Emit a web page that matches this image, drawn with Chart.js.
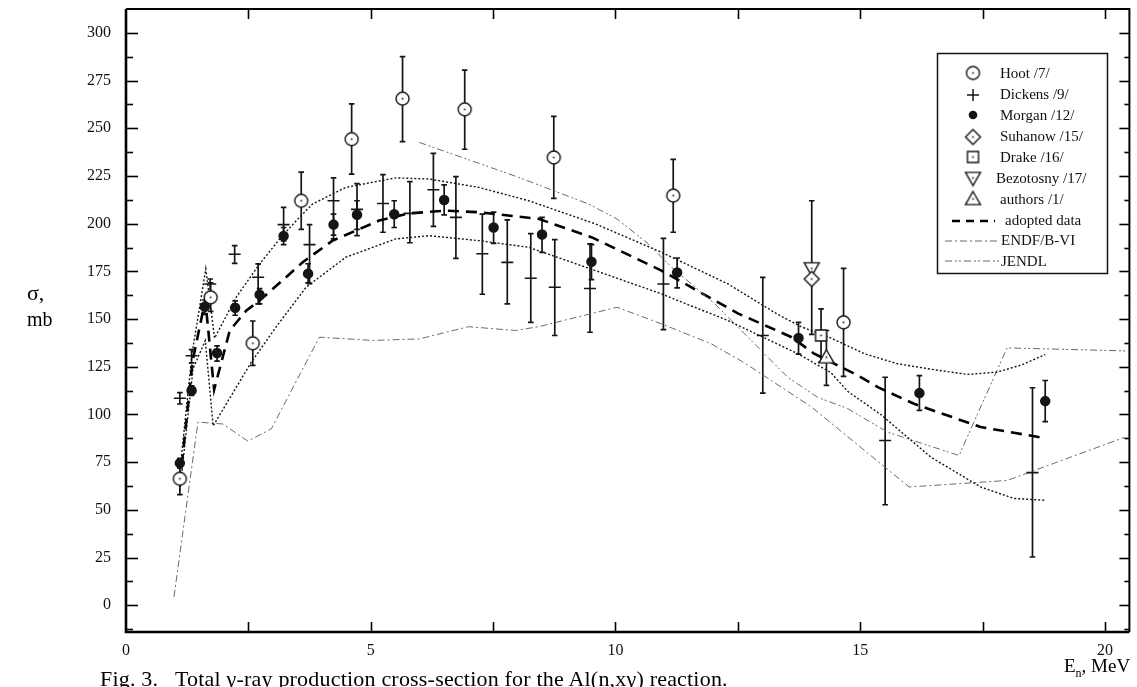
<!DOCTYPE html>
<html><head><meta charset="utf-8">
<script src="https://cdn.jsdelivr.net/npm/chart.js@4.4.1/dist/chart.umd.min.js"></script>
<style>
html,body{margin:0;padding:0;background:#fff;}
#wrap{position:relative;width:1137px;height:687px;overflow:hidden;font-family:"Liberation Serif","DejaVu Serif",serif;color:#000;}
#c{position:absolute;left:0;top:0;}
.t{position:absolute;white-space:pre;line-height:1;}
</style>
</head><body>
<div id="wrap">
<canvas id="c" width="1137" height="687"></canvas>
<div class="t" style="left:27px;top:282px;font-size:22px;">σ,</div>
<div class="t" style="left:27px;top:309px;font-size:20px;">mb</div>
<div class="t" style="left:1064px;top:656px;font-size:19px;">E<span style="font-size:12px;position:relative;top:5px;">n</span>, MeV</div>
<div class="t" style="left:100px;top:668px;font-size:22px;letter-spacing:0.2px;">Fig. 3.   Total γ-ray production cross-section for the Al(n,xγ) reaction.</div>
</div>
<script>
// ---------- data ----------
const xTickLabels = ['0','5','10','15','20'];
const yTickLabels = ['0','25','50','75','100','125','150','175','200','225','250','275','300'];

const hootE  = [1.10, 1.73, 2.59, 3.58, 4.61, 5.65, 6.92, 8.74, 11.18, 14.66];
const hootS  = [66.3, 161.4, 137.3, 212.0, 244.3, 265.5, 259.9, 234.7, 214.7, 148.3];
const hootLo = [58.0, 154.0, 125.7, 197.0, 226.0, 243.0, 239.0, 213.3, 195.5, 120.0];
const hootHi = [72.0, 169.0, 149.0, 227.0, 262.8, 287.5, 280.5, 256.2, 233.7, 176.6];

const dickE  = [1.10, 1.34, 1.72, 2.22, 2.70, 3.22, 3.75, 4.24, 4.72, 5.25, 5.80, 6.28, 6.74, 7.28, 7.79, 8.27, 8.76, 9.48, 10.98, 13.01, 15.51, 18.52];
const dickS  = [108.5, 130.8, 168.4, 184.0, 171.9, 199.5, 189.0, 212.0, 207.5, 210.6, 205.4, 217.8, 203.3, 184.2, 179.7, 171.4, 166.7, 166.0, 168.4, 141.4, 86.4, 69.5];
const dickLo = [105.5, 127.0, 163.0, 179.2, 158.0, 191.0, 168.6, 192.0, 193.7, 195.5, 190.0, 198.6, 181.8, 163.0, 158.0, 148.3, 141.4, 143.1, 144.5, 111.2, 52.7, 25.3];
const dickHi = [111.5, 134.0, 171.0, 188.5, 178.9, 208.5, 199.5, 224.0, 221.0, 225.7, 222.0, 236.8, 224.6, 205.0, 202.0, 194.8, 191.6, 189.4, 192.3, 171.9, 119.5, 114.0];

const morE  = [1.10, 1.34, 1.61, 1.86, 2.23, 2.73, 3.22, 3.72, 4.24, 4.72, 5.48, 6.50, 7.51, 8.50, 9.51, 11.26, 13.74, 16.21, 18.78];
const morS  = [74.5, 112.6, 156.5, 132.2, 155.9, 162.8, 193.5, 173.8, 199.5, 204.7, 204.9, 212.4, 198.0, 194.3, 180.0, 174.4, 140.1, 111.2, 107.0];
const morLo = [72.0, 110.0, 152.5, 128.0, 152.0, 158.0, 189.0, 169.0, 194.0, 197.0, 198.0, 204.6, 189.7, 185.0, 170.7, 166.3, 131.6, 102.1, 96.3];
const morHi = [77.0, 115.0, 160.0, 136.0, 159.5, 166.0, 198.0, 179.0, 205.0, 212.0, 212.0, 220.3, 206.0, 203.3, 189.0, 182.0, 148.3, 120.4, 117.8];

const suhE = [14.01], suhS = [171.0];
const drakeE = [14.20], drakeS = [141.4], drakeLo = [127.5], drakeHi = [155.3];
const bezE = [14.01], bezS = [176.6], bezLo = [142.0], bezHi = [212.0];
const authE = [14.31], authS = [130.0], authLo = [115.2], authHi = [144.0];

const adoptE = [1.10, 1.36, 1.62, 1.80, 2.12, 2.46, 2.73, 3.27, 3.61, 4.22, 5.17, 5.78, 6.53, 7.21, 8.43, 9.52, 10.94, 12.50, 13.60, 14.05, 14.95, 15.36, 16.10, 17.46, 18.78];
const adoptS = [64.0, 128.0, 160.0, 113.0, 144.0, 154.5, 159.7, 171.9, 179.8, 191.1, 201.6, 205.4, 206.8, 206.0, 202.5, 192.8, 175.4, 153.0, 140.5, 132.0, 120.5, 114.3, 105.6, 93.4, 87.6];

const upperE = [1.10, 1.35, 1.63, 1.81, 2.25, 2.73, 3.14, 3.48, 3.81, 4.49, 5.51, 6.19, 7.21, 8.23, 9.59, 10.94, 12.30, 13.30, 13.79, 14.41, 15.09, 15.76, 16.50, 17.19, 17.80, 18.30, 18.78];
const upperS = [70.0, 132.0, 176.3, 140.0, 161.4, 178.9, 192.0, 201.6, 210.3, 219.0, 224.0, 223.4, 219.0, 212.0, 199.9, 185.0, 168.4, 152.7, 146.0, 140.0, 131.8, 126.6, 123.5, 121.0, 122.2, 126.0, 131.4];

const lowerE = [1.10, 1.37, 1.62, 1.78, 2.55, 3.07, 3.68, 4.49, 5.51, 6.19, 7.21, 8.23, 9.59, 10.94, 12.30, 13.73, 14.40, 14.75, 15.42, 16.44, 17.46, 18.14, 18.78];
const lowerS = [60.0, 124.0, 138.8, 94.0, 127.0, 146.0, 166.7, 182.4, 192.0, 193.7, 191.1, 187.6, 175.4, 163.2, 149.2, 131.8, 122.0, 112.0, 100.0, 77.7, 62.0, 56.0, 55.0];

const endfE = [0.98, 1.47, 1.98, 2.49, 2.97, 3.95, 5.04, 5.99, 7.00, 7.96, 8.43, 10.03, 10.94, 11.96, 12.64, 13.39, 14.00, 16.00, 18.00, 20.40];
const endfS = [4.4, 96.0, 95.0, 86.0, 92.5, 140.5, 138.8, 139.6, 146.0, 144.0, 146.0, 156.2, 147.5, 137.0, 127.0, 114.3, 104.0, 62.0, 65.4, 88.0];

const jendlE = [5.99, 8.02, 9.45, 10.03, 10.67, 11.15, 12.03, 12.57, 13.52, 14.13, 14.75, 15.56, 17.02, 18.00, 20.45];
const jendlS = [242.6, 224.3, 210.3, 202.5, 189.4, 177.1, 158.0, 144.0, 119.5, 109.0, 103.0, 90.7, 78.5, 134.9, 133.3];

// ---------- helpers ----------
const pts = (xs, ys) => xs.map((x, i) => ({x: x, y: ys[i]}));
const INK = '#151515';

function marker(kind, r) {
  const s = Math.ceil(r * 2 + 4);
  const c = document.createElement('canvas');
  c.width = s; c.height = s;
  const g = c.getContext('2d');
  const m = s / 2;
  g.lineWidth = 1.4; g.strokeStyle = INK; g.fillStyle = '#fff';
  g.beginPath();
  if (kind === 'circle') g.arc(m, m, r, 0, Math.PI * 2);
  else if (kind === 'square') g.rect(m - r * 0.85, m - r * 0.85, r * 1.7, r * 1.7);
  else if (kind === 'diamond') { g.moveTo(m, m - r); g.lineTo(m + r, m); g.lineTo(m, m + r); g.lineTo(m - r, m); g.closePath(); }
  else if (kind === 'tridown') { g.moveTo(m - r, m - r * 0.75); g.lineTo(m + r, m - r * 0.75); g.lineTo(m, m + r); g.closePath(); }
  else if (kind === 'triup') { g.moveTo(m, m - r); g.lineTo(m + r, m + r * 0.75); g.lineTo(m - r, m + r * 0.75); g.closePath(); }
  g.fill(); g.stroke();
  g.fillStyle = INK; g.fillRect(m - 0.8, m - 0.8, 1.6, 1.6);
  return c;
}
const mkCircle = marker('circle', 6.5);
const mkDiamond = marker('diamond', 7.5);
const mkSquare = marker('square', 6.5);
const mkTriDown = marker('tridown', 7.5);
const mkTriUp = marker('triup', 7.5);

function scatterSet(label, xs, ys, lo, hi, style, extra) {
  return Object.assign({
    label: label, type: 'scatter', data: pts(xs, ys), showLine: false,
    pointStyle: style, pointRadius: 6, pointHoverRadius: 6,
    borderColor: INK, backgroundColor: '#fff', borderWidth: 1.5,
    errLo: lo, errHi: hi, order: 1
  }, extra || {});
}
function lineSet(label, xs, ys, color, width, dash) {
  return {
    label: label, type: 'line', data: pts(xs, ys), showLine: true,
    borderColor: color, borderWidth: width, borderDash: dash,
    pointRadius: 0, pointHoverRadius: 0, fill: false, tension: 0, order: 5
  };
}

// ---------- plugins ----------
const errorBars = {
  id: 'errorBars',
  beforeDatasetsDraw(chart) {
    const g = chart.ctx, xs = chart.scales.x, ys = chart.scales.y, a = chart.chartArea;
    g.save();
    g.beginPath(); g.rect(a.left, a.top, a.right - a.left, a.bottom - a.top); g.clip();
    g.strokeStyle = INK; g.lineWidth = 1.7; g.setLineDash([]);
    chart.data.datasets.forEach(ds => {
      if (!ds.errLo) return;
      ds.data.forEach((p, i) => {
        const x = xs.getPixelForValue(p.x);
        const y1 = ys.getPixelForValue(ds.errLo[i]);
        const y2 = ys.getPixelForValue(ds.errHi[i]);
        g.beginPath();
        g.moveTo(x, y1); g.lineTo(x, y2);
        g.moveTo(x - 2.8, y1); g.lineTo(x + 2.8, y1);
        g.moveTo(x - 2.8, y2); g.lineTo(x + 2.8, y2);
        g.stroke();
      });
    });
    g.restore();
  }
};

const frame = {
  id: 'frame',
  afterDraw(chart) {
    const g = chart.ctx, a = chart.chartArea, xs = chart.scales.x, ys = chart.scales.y;
    g.save();
    g.strokeStyle = '#000'; g.setLineDash([]);
    g.lineWidth = 1.6;
    xs.ticks.forEach(t => {
      const x = Math.round(xs.getPixelForValue(t.value)) + 0.5;
      if (x <= a.left + 1 || x >= a.right - 1) return;
      g.beginPath(); g.moveTo(x, a.bottom); g.lineTo(x, a.bottom - 10); g.stroke();
      g.beginPath(); g.moveTo(x, a.top); g.lineTo(x, a.top + 10); g.stroke();
    });
    ys.ticks.forEach(t => {
      const y = Math.round(ys.getPixelForValue(t.value)) + 0.5;
      if (y <= a.top + 1 || y >= a.bottom - 1) return;
      const major = yTickLabels.indexOf(String(t.value)) >= 0;
      g.beginPath(); g.moveTo(a.left, y); g.lineTo(a.left + (major ? 12 : 7), y); g.stroke();
      g.beginPath(); g.moveTo(a.right, y); g.lineTo(a.right - (major ? 10 : 5), y); g.stroke();
    });
    g.lineWidth = 2.6;
    g.beginPath(); g.moveTo(a.left, a.top); g.lineTo(a.left, a.bottom); g.lineTo(a.right, a.bottom); g.stroke();
    g.lineWidth = 2;
    g.beginPath(); g.moveTo(a.left, a.top); g.lineTo(a.right, a.top); g.lineTo(a.right, a.bottom); g.stroke();
    g.restore();
  }
};

const legendBox = {
  id: 'legendBox',
  afterDraw(chart) {
    const g = chart.ctx;
    const L = 937, T = 53, R = 1107, B = 273;
    g.save();
    g.fillStyle = '#fff'; g.fillRect(L, T, R - L, B - T);
    g.strokeStyle = INK; g.lineWidth = 1.5; g.setLineDash([]);
    g.strokeRect(L + 0.5, T + 0.5, R - L, B - T);
    g.font = '15px "Liberation Serif", serif'; g.fillStyle = '#111'; g.textBaseline = 'middle';
    const mx = 973;
    const img = (c, y) => g.drawImage(c, mx - c.width / 2, y - c.height / 2);
    img(mkCircle, 73); g.fillText('Hoot /7/', 1000, 74);
    g.lineWidth = 1.5; g.beginPath(); g.moveTo(mx - 6, 95); g.lineTo(mx + 6, 95); g.moveTo(mx, 89); g.lineTo(mx, 101); g.stroke();
    g.fillText('Dickens /9/', 1000, 95);
    g.beginPath(); g.arc(mx, 115, 4.3, 0, Math.PI * 2); g.fill(); g.fillText('Morgan /12/', 1000, 116);
    img(mkDiamond, 137); g.fillText('Suhanow /15/', 1000, 137);
    img(mkSquare, 157); g.fillText('Drake /16/', 1000, 158);
    img(mkTriDown, 178); g.fillText('Bezotosny /17/', 996, 179);
    img(mkTriUp, 199); g.fillText('authors /1/', 1000, 200);
    const ln = (y, x1, x2, w, col, dash) => { g.save(); g.strokeStyle = col; g.lineWidth = w; g.setLineDash(dash); g.beginPath(); g.moveTo(x1, y); g.lineTo(x2, y); g.stroke(); g.restore(); };
    ln(221, 952, 995, 2.6, '#000', [8, 6]); g.fillText('adopted data', 1005, 221);
    ln(241, 945, 1000, 1, '#666', [7, 3, 2, 3]); g.fillText('ENDF/B-VI', 1001, 241);
    ln(261, 945, 1000, 1, '#666', [7, 3, 2, 2, 2, 3]); g.fillText('JENDL', 1001, 262);
    g.restore();
  }
};

// ---------- chart ----------
const datasets = [
  lineSet('upper', upperE, upperS, INK, 1.4, [2, 2]),
  lineSet('lower', lowerE, lowerS, INK, 1.4, [2, 2]),
  lineSet('ENDF/B-VI', endfE, endfS, '#6a6a6a', 1, [7, 3, 2, 3]),
  lineSet('JENDL', jendlE, jendlS, '#6a6a6a', 1, [7, 3, 2, 2, 2, 3]),
  lineSet('adopted data', adoptE, adoptS, '#000', 2.6, [11, 7]),
  scatterSet('Dickens /9/', dickE, dickS, dickLo, dickHi, 'line', {pointRadius: 6, borderWidth: 1.6}),
  scatterSet('Morgan /12/', morE, morS, morLo, morHi, 'circle', {pointRadius: 4.5, backgroundColor: INK}),
  scatterSet('Hoot /7/', hootE, hootS, hootLo, hootHi, mkCircle),
  scatterSet('Suhanow /15/', suhE, suhS, null, null, mkDiamond),
  scatterSet('Drake /16/', drakeE, drakeS, drakeLo, drakeHi, mkSquare),
  scatterSet('Bezotosny /17/', bezE, bezS, bezLo, bezHi, mkTriDown),
  scatterSet('authors /1/', authE, authS, authLo, authHi, mkTriUp)
];

const tickFont = {family: '"Liberation Serif", serif', size: 16};
new Chart(document.getElementById('c'), {
  type: 'scatter',
  data: {datasets: datasets},
  plugins: [errorBars, frame, legendBox],
  options: {
    responsive: false, animation: false, events: [],
    layout: {padding: {top: 9, right: 3, left: 0, bottom: 0}},
    plugins: {legend: {display: false}, tooltip: {enabled: false}},
    scales: {
      x: {
        type: 'linear', position: 'bottom', min: 0, max: 20.5,
        grid: {display: false, drawTicks: false}, border: {display: false},
        ticks: {stepSize: 2.5, autoSkip: false, maxRotation: 0, includeBounds: false, padding: 9, color: '#111', font: tickFont,
          callback: v => xTickLabels.indexOf(String(v)) >= 0 ? String(v) : ''},
        afterFit: s => { s.height = 55; s.paddingLeft = 0; s.paddingRight = 0; }
      },
      y: {
        type: 'linear', min: -14, max: 312.5,
        grid: {display: false, drawTicks: false}, border: {display: false},
        ticks: {stepSize: 12.5, autoSkip: false, includeBounds: false, padding: 15, color: '#111', font: tickFont,
          callback: v => yTickLabels.indexOf(String(v)) >= 0 ? String(v) : ''},
        afterFit: s => { s.width = 126; s.paddingTop = 0; s.paddingBottom = 0; }
      }
    }
  }
});
</script>
</body></html>
